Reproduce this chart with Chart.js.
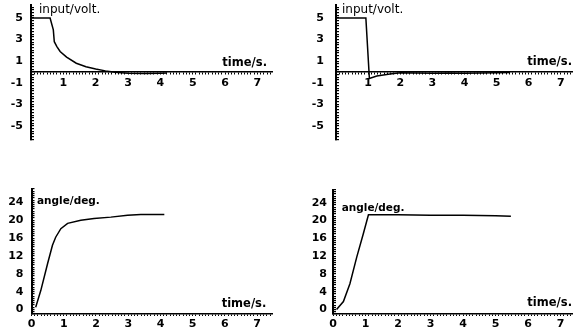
<!DOCTYPE html>
<html>
<head>
<meta charset="utf-8">
<script src="https://cdn.jsdelivr.net/npm/chart.js@4.4.0/dist/chart.umd.min.js"></script>
<style>
  html, body { margin: 0; padding: 0; background: #fff; }
  #wrap { position: relative; width: 573px; height: 328px; overflow: hidden; }
  canvas { position: absolute; }
</style>
</head>
<body>
<div id="wrap">
  <canvas id="c1" width="286" height="160" style="left:0;top:0"></canvas>
  <canvas id="c2" width="287" height="160" style="left:286px;top:0"></canvas>
  <canvas id="c3" width="286" height="168" style="left:0;top:160px"></canvas>
  <canvas id="c4" width="287" height="168" style="left:286px;top:160px"></canvas>
</div>
<script>
// tick labels
const timeTicksTop = [1, 2, 3, 4, 5, 6, 7];
const timeTicksBottom = [0, 1, 2, 3, 4, 5, 6, 7];
const voltTicks = [5, 3, 1, -1, -3, -5];
const angleTicks = [0, 4, 8, 12, 16, 20, 24];

// input voltage, left case
const timeInLeft = [0, 0.59, 0.69, 0.72, 0.8, 0.9, 1.1, 1.4, 1.7, 2.0, 2.3, 2.6, 3.0, 3.5, 4.0, 4.2];
const voltLeft   = [5, 5, 3.9, 2.8, 2.35, 1.9, 1.37, 0.81, 0.49, 0.27, 0.1, -0.03, -0.12, -0.15, -0.12, -0.1];

// input voltage, right case
const timeInRight = [0, 0.93, 1.04, 1.27, 1.68, 2.0, 2.5, 3.0, 3.5, 4.0, 4.5, 5.0, 5.42];
const voltRight   = [5, 5, -0.6, -0.37, -0.19, -0.08, -0.1, -0.12, -0.1, -0.12, -0.1, -0.08, -0.05];

// angle, left case
const timeAngLeft = [0.13, 0.29, 0.5, 0.65, 0.75, 0.91, 1.12, 1.53, 1.94, 2.46, 2.98, 3.39, 4.12];
const angleLeft   = [0.5, 4.3, 10.3, 14.4, 16.2, 18.1, 19.3, 20.0, 20.4, 20.7, 21.1, 21.3, 21.3];

// angle, right case
const timeAngRight = [0.11, 0.32, 0.52, 0.73, 0.93, 1.09, 2.0, 3.0, 4.0, 5.0, 5.47];
const angleRight   = [0, 1.8, 5.8, 11.8, 17.0, 21.3, 21.3, 21.2, 21.2, 21.1, 21.0];

const FONT = "'DejaVu Sans', sans-serif";

// dense ruler-like ticks, only majors get a label
function ruler(min, max, step) {
    const out = [];
    for (let i = Math.ceil(min / step); i * step <= max + 1e-9; i++) {
        out.push({ value: Math.round(i * step * 1000) / 1000 });
    }
    return out;
}

// axis names drawn next to the axes
const axisNotes = {
    id: 'axisNotes',
    afterDraw(chart, args, opts) {
        const { ctx, chartArea } = chart;
        const base = opts.baseValue !== undefined
            ? chart.scales.y.getPixelForValue(opts.baseValue)
            : chartArea.bottom;
        ctx.save();
        ctx.fillStyle = '#000';
        ctx.textBaseline = 'middle';
        (opts.items || []).forEach(it => {
            ctx.font = it.font + ' ' + FONT;
            if (it.from === 'top') {
                ctx.textAlign = 'left';
                ctx.fillText(it.text, chartArea.left + it.dx, chartArea.top + it.dy);
            } else {
                ctx.textAlign = 'right';
                ctx.fillText(it.text, chartArea.right + it.dx, base + it.dy);
            }
        });
        ctx.restore();
    }
};

function makePanel(id, p) {
    const data = p.xs.map((x, i) => ({ x: x, y: p.ys[i] }));
    return new Chart(document.getElementById(id), {
        type: 'line',
        data: {
            datasets: [{
                data: data,
                borderColor: '#000',
                borderWidth: 1.5,
                pointRadius: 0,
                tension: 0,
                fill: false
            }]
        },
        options: {
            responsive: false,
            animation: false,
            devicePixelRatio: 1,
            layout: { padding: p.padding },
            plugins: {
                legend: { display: false },
                tooltip: { enabled: false },
                axisNotes: { baseValue: p.baseValue, items: p.notes }
            },
            scales: {
                x: {
                    type: 'linear',
                    position: p.xPosition,
                    min: 0,
                    max: p.xMax,
                    afterBuildTicks: s => { s.ticks = ruler(0, p.xMax, 0.1); },
                    afterFit: s => {
                        s.height = p.xHeight;
                        s.paddingLeft = 0;
                        s.paddingRight = 0;
                    },
                    border: { display: true, color: '#000', width: 1.5 },
                    grid: { drawOnChartArea: false, drawTicks: true, tickLength: 2, color: '#000', lineWidth: 1 },
                    ticks: {
                        autoSkip: false,
                        maxRotation: 0,
                        padding: p.xPad,
                        color: '#000',
                        font: { family: FONT, size: 11, weight: 'bold' },
                        callback: v => p.xLabels.includes(v) ? String(v) : ''
                    }
                },
                y: {
                    type: 'linear',
                    position: 'left',
                    min: p.yMin,
                    max: p.yMax,
                    afterBuildTicks: s => { s.ticks = ruler(p.yMin, p.yMax, p.yStep); },
                    afterFit: s => {
                        // fixed width, and no extra room for the end labels
                        s.width = p.yWidth;
                        s.paddingTop = 0;
                        s.paddingBottom = 0;
                    },
                    border: { display: true, color: '#000', width: 2 },
                    grid: { drawOnChartArea: false, drawTicks: true, tickLength: -3, color: '#000', lineWidth: 1.2 },
                    ticks: {
                        autoSkip: false,
                        padding: p.yPad,
                        color: '#000',
                        font: { family: FONT, size: 11, weight: 'bold' },
                        callback: v => p.yLabels.includes(v) ? String(v) : ''
                    }
                }
            }
        },
        plugins: [axisNotes]
    });
}

// top left: input voltage
makePanel('c1', {
    xs: timeInLeft, ys: voltLeft,
    xMax: 7.45, xPosition: { y: 0 }, xLabels: timeTicksTop, xPad: 3, xHeight: 0,
    yMin: -6.3, yMax: 6.2, yStep: 0.25, yLabels: voltTicks, yWidth: 31, yPad: 11,
    padding: { left: 0, top: 5, right: 14, bottom: 20 },
    baseValue: 0,
    notes: [
        { text: 'input/volt.', font: '12px', from: 'top', dx: 8, dy: 5 },
        { text: 'time/s.', font: 'bold 11.5px', from: 'base', dx: -5, dy: -9 }
    ]
});

// top right: input voltage
makePanel('c2', {
    xs: timeInRight, ys: voltRight,
    xMax: 7.38, xPosition: { y: 0 }, xLabels: timeTicksTop, xPad: 3, xHeight: 0,
    yMin: -6.3, yMax: 6.2, yStep: 0.25, yLabels: voltTicks, yWidth: 50, yPad: 15,
    padding: { left: 0, top: 5, right: 0, bottom: 20 },
    baseValue: 0,
    notes: [
        { text: 'input/volt.', font: '12px', from: 'top', dx: 6, dy: 5 },
        { text: 'time/s.', font: 'bold 11.5px', from: 'base', dx: -1, dy: -10 }
    ]
});

// bottom left: angle
makePanel('c3', {
    xs: timeAngLeft, ys: angleLeft,
    xMax: 7.46, xPosition: 'bottom', xLabels: timeTicksBottom, xPad: 2, xHeight: 14,
    yMin: -1, yMax: 27, yStep: 0.5, yLabels: angleTicks, yWidth: 31.5, yPad: 11,
    padding: { left: 0, top: 29, right: 14, bottom: 0 },
    notes: [
        { text: 'angle/deg.', font: 'bold 10.5px', from: 'top', dx: 5.5, dy: 12.7 },
        { text: 'time/s.', font: 'bold 11.5px', from: 'base', dx: -5.7, dy: -9.5 }
    ]
});

// bottom right: angle
makePanel('c4', {
    xs: timeAngRight, ys: angleRight,
    xMax: 7.38, xPosition: 'bottom', xLabels: timeTicksBottom, xPad: 2, xHeight: 14,
    yMin: -1, yMax: 27, yStep: 0.5, yLabels: angleTicks, yWidth: 47, yPad: 9,
    padding: { left: 0, top: 29.5, right: 0, bottom: 0 },
    notes: [
        { text: 'angle/deg.', font: 'bold 10.5px', from: 'top', dx: 8.7, dy: 19 },
        { text: 'time/s.', font: 'bold 11.5px', from: 'base', dx: -1, dy: -11 }
    ]
});
</script>
</body>
</html>
